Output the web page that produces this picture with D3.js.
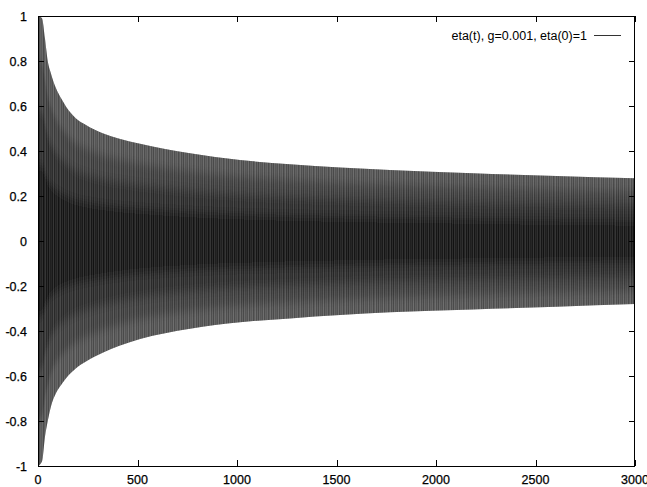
<!DOCTYPE html>
<html>
<head>
<meta charset="utf-8">
<script src="https://cdn.jsdelivr.net/npm/d3@7"></script>
<style>
  html, body { margin: 0; padding: 0; background: #fff; }
  svg text { font-family: "Liberation Sans", Arial, Helvetica, sans-serif; }
</style>
</head>
<body>
<svg id="chart" width="647" height="487"></svg>
<script>
// Envelope of eta(t): sampled upper and lower extremes of the oscillation
const envT     = [0, 20, 35, 49, 65, 90, 116, 141, 191, 241, 325, 409, 513, 764, 1015, 1266, 1518, 1769, 2186, 2605, 3000];
const envUpper = [1.0, 0.99, 0.9, 0.8, 0.745, 0.68, 0.634, 0.597, 0.545, 0.516, 0.479, 0.455, 0.432, 0.39, 0.36, 0.341, 0.327, 0.316, 0.301, 0.289, 0.279];
const envLower = [-1.0, -0.98, -0.87, -0.8, -0.736, -0.677, -0.64, -0.61, -0.566, -0.536, -0.497, -0.466, -0.436, -0.39, -0.361, -0.344, -0.329, -0.317, -0.304, -0.292, -0.28];

const xTicks = [0, 500, 1000, 1500, 2000, 2500, 3000];
const yTicks = [-1, -0.8, -0.6, -0.4, -0.2, 0, 0.2, 0.4, 0.6, 0.8, 1];
const legendLabel = "eta(t), g=0.001, eta(0)=1";

const svg = d3.select("#chart");
const plotL = 38, plotR = 635, plotT = 16, plotB = 466;

const x = d3.scaleLinear().domain([0, 3000]).range([plotL, plotR]);
const y = d3.scaleLinear().domain([-1, 1]).range([plotB, plotT]);

const env = envT.map((t, i) => ({ t, hi: envUpper[i], lo: envLower[i] }));
const curve = d3.curveMonotoneX;

// vertical streak texture for the dense oscillation
const defs = svg.append("defs");
const streakColors = ["#8a8a8a", "#2a2a2a", "#6e6e6e", "#1c1c1c", "#7c7c7c", "#444", "#5a5a5a",
                      "#333", "#909090", "#262626", "#656565", "#4c4c4c", "#7a7a7a", "#202020", "#585858"];
const pat = defs.append("pattern")
  .attr("id", "streaks").attr("patternUnits", "userSpaceOnUse")
  .attr("width", streakColors.length).attr("height", 11);
streakColors.forEach((c, i) => {
  pat.append("rect").attr("x", i).attr("y", 0).attr("width", 1).attr("height", 11).attr("fill", c);
});
defs.append("clipPath").attr("id", "envClip")
  .append("path")
  .attr("d", d3.area().curve(curve).x(d => x(d.t)).y0(d => y(d.lo)).y1(d => y(d.hi))(env));
const blur = defs.append("filter").attr("id", "soft")
  .attr("x", "-5%").attr("y", "-20%").attr("width", "110%").attr("height", "140%");
blur.append("feGaussianBlur").attr("stdDeviation", "0 5");

const clipG = svg.append("g").attr("clip-path", "url(#envClip)");
const g = clipG.append("g").attr("filter", "url(#soft)");

// nested bands: lighter near the extremes, darker around zero
const bands = [
  { f: 1.15, fill: "#616161" },
  { f: 0.8,  fill: "#444444" },
  { f: 0.58, fill: "#2a2a2a" },
  { f: 0.34, fill: "#111111" },
  { f: 0.18, fill: "#080808" }
];
bands.forEach(b => {
  g.append("path")
    .attr("d", d3.area().curve(curve)
      .x(d => x(d.t))
      .y0(d => y(d.lo * b.f))
      .y1(d => y(d.hi * b.f))(env))
    .attr("fill", b.fill);
});

clipG.append("rect")
  .attr("x", plotL).attr("y", plotT).attr("width", plotR - plotL).attr("height", plotB - plotT)
  .attr("fill", "url(#streaks)")
  .attr("opacity", 0.32);

// frame
svg.append("rect")
  .attr("x", plotL + 0.5).attr("y", plotT + 0.5)
  .attr("width", plotR - plotL - 1).attr("height", plotB - plotT)
  .attr("fill", "none").attr("stroke", "#000").attr("stroke-width", 1);

// inward ticks on all four sides
const tl = 6;
const ticks = svg.append("g").attr("stroke", "#000").attr("stroke-width", 1);
xTicks.forEach(v => {
  const px = Math.round(x(v)) + 0.5;
  ticks.append("line").attr("x1", px).attr("x2", px).attr("y1", plotB).attr("y2", plotB - tl);
  ticks.append("line").attr("x1", px).attr("x2", px).attr("y1", plotT).attr("y2", plotT + tl);
});
yTicks.forEach(v => {
  const py = Math.round(y(v)) + 0.5;
  ticks.append("line").attr("x1", plotL).attr("x2", plotL + tl).attr("y1", py).attr("y2", py);
  ticks.append("line").attr("x1", plotR).attr("x2", plotR - tl).attr("y1", py).attr("y2", py);
});

// tick labels
const lab = svg.append("g").attr("font-size", 12.5).attr("fill", "#000")
  .attr("stroke", "#000").attr("stroke-width", 0.25);
xTicks.forEach(v => {
  lab.append("text").attr("x", x(v)).attr("y", 484)
    .attr("text-anchor", "middle").text(d3.format("d")(v));
});
yTicks.forEach(v => {
  lab.append("text").attr("x", 27).attr("y", y(v) + 4.5)
    .attr("text-anchor", "end").text(d3.format("")(v).replace("−", "-"));
});

// legend
svg.append("text").attr("x", 587).attr("y", 39.5)
  .attr("text-anchor", "end").attr("font-size", 12.5).text(legendLabel);
svg.append("line").attr("x1", 594).attr("x2", 621).attr("y1", 35.5).attr("y2", 35.5)
  .attr("stroke", "#333").attr("stroke-width", 1);
</script>
</body>
</html>
